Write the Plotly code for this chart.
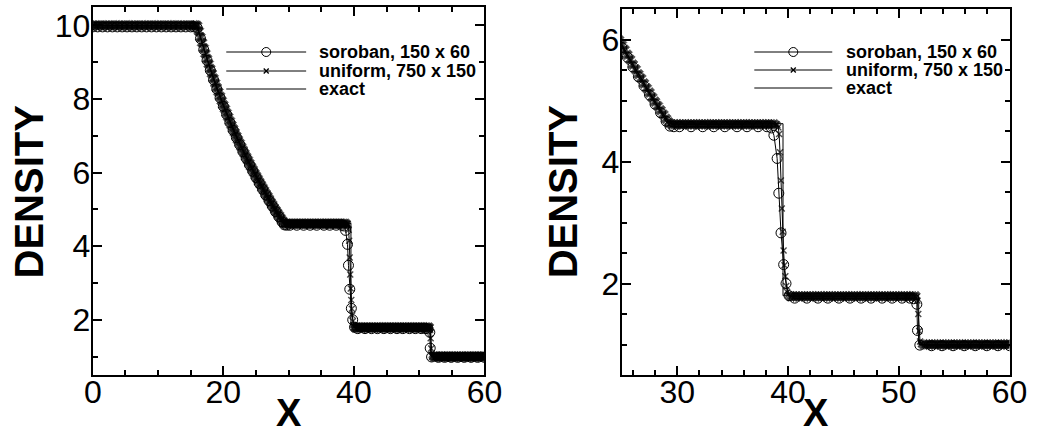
import plotly.graph_objects as go

# ---------------------------------------------------------------------------
# Shock-tube density profiles: soroban grid, uniform grid and exact solution
# ---------------------------------------------------------------------------

# uniform 750 x 150 grid -- sampled along each wave region
uni_x_left = [0, 0.5, 1, 1.5, 2, 2.5, 3, 3.5, 4, 4.5,
              5, 5.5, 6, 6.5, 7, 7.5, 8, 8.5, 9, 9.5,
              10, 10.5, 11, 11.5, 12, 12.5, 13, 13.5, 14, 14.5,
              15, 15.5, 15.75, 16]
uni_y_left = [10, 10, 10, 10, 10, 10, 10, 10, 10, 10,
              10, 10, 10, 10, 10, 10, 10, 10, 10, 10,
              10, 10, 10, 10, 10, 10, 10, 10, 10, 10,
              10, 10, 10, 9.99]

uni_x_fan = [16.25, 16.5, 16.75, 17, 17.25, 17.5, 17.75, 18, 18.25, 18.5,
             18.75, 19, 19.25, 19.5, 19.75, 20, 20.25, 20.5, 20.75, 21,
             21.25, 21.5, 21.75, 22, 22.25, 22.5, 22.75, 23, 23.25, 23.5,
             23.75, 24, 24.25, 24.5, 24.75, 25, 25.25, 25.5, 25.75, 26,
             26.25, 26.5, 26.75, 27, 27.25, 27.5, 27.75, 28, 28.25, 28.5,
             28.75, 29, 29.25]
uni_y_fan = [9.84, 9.68, 9.53, 9.38, 9.23, 9.09, 8.95, 8.82, 8.69, 8.56,
             8.43, 8.31, 8.19, 8.07, 7.95, 7.84, 7.73, 7.62, 7.51, 7.40,
             7.29, 7.19, 7.09, 6.99, 6.89, 6.80, 6.70, 6.61, 6.52, 6.43,
             6.34, 6.25, 6.16, 6.08, 5.99, 5.91, 5.83, 5.75, 5.67, 5.59,
             5.51, 5.43, 5.36, 5.28, 5.20, 5.13, 5.05, 4.98, 4.91, 4.84,
             4.77, 4.70, 4.64]

uni_x_star1 = [29.5, 29.75, 30, 30.25, 30.5, 30.75, 31, 31.25, 31.5, 31.75,
               32, 32.25, 32.5, 32.75, 33, 33.25, 33.5, 33.75, 34, 34.25,
               34.5, 34.75, 35, 35.25, 35.5, 35.75, 36, 36.25, 36.5, 36.75,
               37, 37.25, 37.5, 37.75, 38, 38.25, 38.5, 38.75]
uni_y_star1 = [4.61, 4.61, 4.61, 4.61, 4.61, 4.61, 4.61, 4.61, 4.61, 4.61,
               4.61, 4.61, 4.61, 4.61, 4.61, 4.61, 4.61, 4.61, 4.61, 4.61,
               4.61, 4.61, 4.61, 4.61, 4.61, 4.61, 4.61, 4.61, 4.61, 4.61,
               4.61, 4.61, 4.61, 4.61, 4.61, 4.61, 4.61, 4.61]

uni_x_contact = [38.96, 39.04, 39.12, 39.2, 39.28, 39.36, 39.44, 39.52, 39.6,
                 39.68, 39.76, 39.84, 39.92, 40.0]
uni_y_contact = [4.61, 4.60, 4.56, 4.45, 4.15, 3.69, 3.23, 2.85, 2.54,
                 2.30, 2.12, 1.96, 1.86, 1.81]

uni_x_star2 = [40.25, 40.5, 40.75, 41, 41.25, 41.5, 41.75, 42, 42.25, 42.5,
               42.75, 43, 43.25, 43.5, 43.75, 44, 44.25, 44.5, 44.75, 45,
               45.25, 45.5, 45.75, 46, 46.25, 46.5, 46.75, 47, 47.25, 47.5,
               47.75, 48, 48.25, 48.5, 48.75, 49, 49.25, 49.5, 49.75, 50,
               50.25, 50.5, 50.75, 51, 51.25, 51.5]
uni_y_star2 = [1.79, 1.79, 1.79, 1.79, 1.79, 1.79, 1.79, 1.79, 1.79, 1.79,
               1.79, 1.79, 1.79, 1.79, 1.79, 1.79, 1.79, 1.79, 1.79, 1.79,
               1.79, 1.79, 1.79, 1.79, 1.79, 1.79, 1.79, 1.79, 1.79, 1.79,
               1.79, 1.79, 1.79, 1.79, 1.79, 1.79, 1.79, 1.79, 1.79, 1.79,
               1.79, 1.79, 1.79, 1.79, 1.79, 1.79]

uni_x_shock = [51.6, 51.68, 51.76, 51.84, 51.92, 52.0]
uni_y_shock = [1.78, 1.72, 1.50, 1.22, 1.05, 1.01]

uni_x_right = [52.25, 52.5, 52.75, 53, 53.25, 53.5, 53.75, 54, 54.25, 54.5,
               54.75, 55, 55.25, 55.5, 55.75, 56, 56.25, 56.5, 56.75, 57,
               57.25, 57.5, 57.75, 58, 58.25, 58.5, 58.75, 59, 59.25, 59.5,
               59.75, 60]
uni_y_right = [1.0, 1.0, 1.0, 1.0, 1.0, 1.0, 1.0, 1.0, 1.0, 1.0,
               1.0, 1.0, 1.0, 1.0, 1.0, 1.0, 1.0, 1.0, 1.0, 1.0,
               1.0, 1.0, 1.0, 1.0, 1.0, 1.0, 1.0, 1.0, 1.0, 1.0,
               1.0, 1.0]

# soroban 150 x 60 grid (clustered around the waves)
sor_x = [0, 0.75, 1.5, 2.25, 3, 3.75, 4.5, 5.25, 6, 6.75,
         7.5, 8.25, 9, 9.75, 10.5, 11.25, 12, 12.75, 13.5, 14.25,
         15, 15.5, 16,
         16.5, 17, 17.5, 18, 18.5, 19, 19.5, 20, 20.5, 21,
         21.5, 22, 22.5, 23, 23.5, 24, 24.5, 25, 25.5, 26,
         26.5, 27, 27.5, 28, 28.5, 29, 29.35,
         29.7, 30.2, 31.25, 32.3, 33.3, 34.3, 35.4, 36.3, 37.3, 38.1, 38.5,
         38.73, 39.02, 39.17, 39.37, 39.61, 39.82, 40.1,
         40.6, 41.7, 42.7, 43.6, 44.6, 45.6, 46.6, 47.5, 48.5, 49.4,
         50.3, 51.0, 51.35,
         51.63, 51.69, 51.9,
         52.95, 53.9, 54.9, 55.9, 56.9, 57.95, 58.95, 60]
sor_y = [9.96, 9.96, 9.96, 9.96, 9.96, 9.96, 9.96, 9.96, 9.96, 9.96,
         9.96, 9.96, 9.96, 9.96, 9.96, 9.96, 9.96, 9.96, 9.96, 9.96,
         9.96, 9.96, 9.93,
         9.64, 9.34, 9.05, 8.78, 8.52, 8.27, 8.03, 7.80, 7.58, 7.36,
         7.15, 6.95, 6.76, 6.57, 6.39, 6.21, 6.04, 5.87, 5.71, 5.55,
         5.39, 5.24, 5.09, 4.94, 4.80, 4.66, 4.58,
         4.57, 4.57, 4.57, 4.57, 4.57, 4.57, 4.57, 4.57, 4.57, 4.57, 4.55,
         4.43, 4.05, 3.48, 2.83, 2.31, 2.00, 1.80,
         1.76, 1.76, 1.76, 1.76, 1.76, 1.76, 1.76, 1.76, 1.76, 1.76,
         1.76, 1.76, 1.75,
         1.66, 1.23, 0.99,
         0.98, 0.98, 0.98, 0.98, 0.98, 0.98, 0.98, 0.98]

# exact Riemann solution
exact_x = [0, 16, 17, 18, 19, 20, 21, 22, 23, 24, 25, 26, 27, 28, 29, 29.35,
           39.55, 39.55, 51.8, 51.8, 60]
exact_y = [10, 10, 9.38, 8.82, 8.31, 7.84, 7.40, 6.99, 6.61, 6.25, 5.91, 5.59,
           5.28, 4.98, 4.70, 4.62, 4.62, 1.8, 1.8, 1.0, 1.0]

legend_labels = ["soroban, 150 x 60", "uniform, 750 x 150", "exact"]

# assemble the uniform-grid series; points inside the two jumps are drawn
# with a thin cross, the densely packed smooth regions with a solid one
uni_segments = [
    (uni_x_left, uni_y_left, False),
    (uni_x_fan, uni_y_fan, False),
    (uni_x_star1, uni_y_star1, False),
    (uni_x_contact, uni_y_contact, True),
    (uni_x_star2, uni_y_star2, False),
    (uni_x_shock, uni_y_shock, True),
    (uni_x_right, uni_y_right, False),
]
uni_x, uni_y, uni_sym, uni_size, uni_lw = [], [], [], [], []
for xs, ys, in_jump in uni_segments:
    uni_x += xs
    uni_y += ys
    n = len(xs)
    uni_sym += ["x-thin" if in_jump else "x"] * n
    uni_size += [6 if in_jump else 9] * n
    uni_lw += [1.4 if in_jump else 0.6] * n

W, H = 1049, 435
FONT = "Liberation Sans, Arial, Helvetica, sans-serif"


def fx(p):
    return p / W


def fy(p):
    return 1 - p / H


fig = go.Figure()

for xa, ya in (("x", "y"), ("x2", "y2")):
    fig.add_trace(go.Scatter(
        x=sor_x, y=sor_y, mode="lines+markers", xaxis=xa, yaxis=ya,
        line=dict(color="black", width=1),
        marker=dict(symbol="circle-open", size=10, color="black",
                    line=dict(width=1, color="black")),
        showlegend=False))
    fig.add_trace(go.Scatter(
        x=uni_x, y=uni_y, mode="lines+markers", xaxis=xa, yaxis=ya,
        line=dict(color="black", width=1),
        marker=dict(symbol=uni_sym, size=uni_size, color="black",
                    line=dict(width=uni_lw, color="black")),
        showlegend=False))
    fig.add_trace(go.Scatter(
        x=exact_x, y=exact_y, mode="lines", xaxis=xa, yaxis=ya,
        line=dict(color="black", width=1),
        showlegend=False))

# empty traces so the top/right frame axes are laid out
for xa, ya in (("x3", "y3"), ("x4", "y4")):
    fig.add_trace(go.Scatter(x=[None], y=[None], xaxis=xa, yaxis=ya,
                             mode="lines", showlegend=False,
                             hoverinfo="skip"))

TICKS = dict(ticks="inside", ticklen=9, tickwidth=2, tickcolor="black",
             showgrid=False, zeroline=False,
             showline=True, linewidth=2, linecolor="black")


def axis(rng, dtick, minor_dtick, **extra):
    d = dict(TICKS, range=rng, tick0=0, dtick=dtick,
             minor=dict(ticks="inside", ticklen=5, tickwidth=1.5,
                        tickcolor="black", dtick=minor_dtick, tick0=0))
    d.update(extra)
    return d


label_font = dict(family=FONT, size=32, color="black")

left_xdom = [fx(86), fx(488)]
right_xdom = [fx(629), fx(1027)]
ydom_left = [fy(375), fy(7)]
ydom_right = [fy(375), fy(9)]

fig.update_layout(
    width=W, height=H, autosize=False,
    margin=dict(l=0, r=0, t=0, b=0),
    paper_bgcolor="white", plot_bgcolor="white",
    # bottom / left axes with labels
    xaxis=axis([0, 60], 20, 5, domain=left_xdom, anchor="y",
               tickfont=label_font, ticklabelstandoff=-12),
    yaxis=axis([0.5, 10.5], 2, 1, domain=ydom_left, anchor="x",
               tickfont=label_font, ticklabelstandoff=-6),
    xaxis2=axis([25, 60], 10, 2, domain=right_xdom, anchor="y2",
                tickfont=label_font, ticklabelstandoff=-12),
    yaxis2=axis([0.5, 6.5], 2, 0.5, domain=ydom_right, anchor="x2",
                tickfont=label_font, ticklabelstandoff=-6),
    # top / right frame axes carrying the mirrored ticks
    xaxis3=axis([0, 60], 20, 5, overlaying="x", side="top", anchor="y",
                showticklabels=False),
    yaxis3=axis([0.5, 10.5], 2, 1, overlaying="y", side="right",
                anchor="x", showticklabels=False),
    xaxis4=axis([25, 60], 10, 2, overlaying="x2", side="top", anchor="y2",
                showticklabels=False),
    yaxis4=axis([0.5, 6.5], 2, 0.5, overlaying="y2", side="right",
                anchor="x2", showticklabels=False),
)

annotations = []
shapes = []

# axis titles
for cx in (21, 569):
    annotations.append(dict(
        text="<b>DENSITY</b>", xref="paper", yref="paper",
        x=fx(cx), y=fy(191), xanchor="center", yanchor="middle",
        textangle=-90, showarrow=False,
        font=dict(family=FONT, size=40, color="black")))
for cx in (287, 828):
    annotations.append(dict(
        text="<b>X</b>", xref="paper", yref="paper",
        x=fx(cx), y=fy(413), xanchor="center", yanchor="middle",
        showarrow=False, font=dict(family=FONT, size=38, color="black")))


# legend blocks drawn inside each panel
def legend_block(x0, x1, xm, xt, rows):
    for i, (row, label) in enumerate(zip(rows, legend_labels)):
        shapes.append(dict(type="line", xref="paper", yref="paper",
                           x0=fx(x0), x1=fx(x1), y0=fy(row), y1=fy(row),
                           line=dict(color="black", width=1)))
        if i == 0:
            shapes.append(dict(type="circle", xref="paper", yref="paper",
                               xsizemode="pixel", ysizemode="pixel",
                               xanchor=fx(xm), yanchor=fy(row),
                               x0=-4.5, x1=4.5, y0=-4.5, y1=4.5,
                               line=dict(color="black", width=1)))
        elif i == 1:
            for s in (1, -1):
                shapes.append(dict(type="line", xref="paper", yref="paper",
                                   xsizemode="pixel", ysizemode="pixel",
                                   xanchor=fx(xm), yanchor=fy(row),
                                   x0=-2.5, x1=2.5, y0=-2.5 * s, y1=2.5 * s,
                                   line=dict(color="black", width=1.3)))
        annotations.append(dict(
            text="<b>" + label + "</b>", xref="paper", yref="paper",
            x=fx(xt), y=fy(row), xanchor="left", yanchor="middle",
            showarrow=False, font=dict(family=FONT, size=18, color="black")))


legend_block(223, 305, 264, 316, (52, 71, 89))
legend_block(765, 845, 805, 857, (52, 70, 88))

fig.update_layout(annotations=annotations, shapes=shapes)

fig.write_html("out.html")
